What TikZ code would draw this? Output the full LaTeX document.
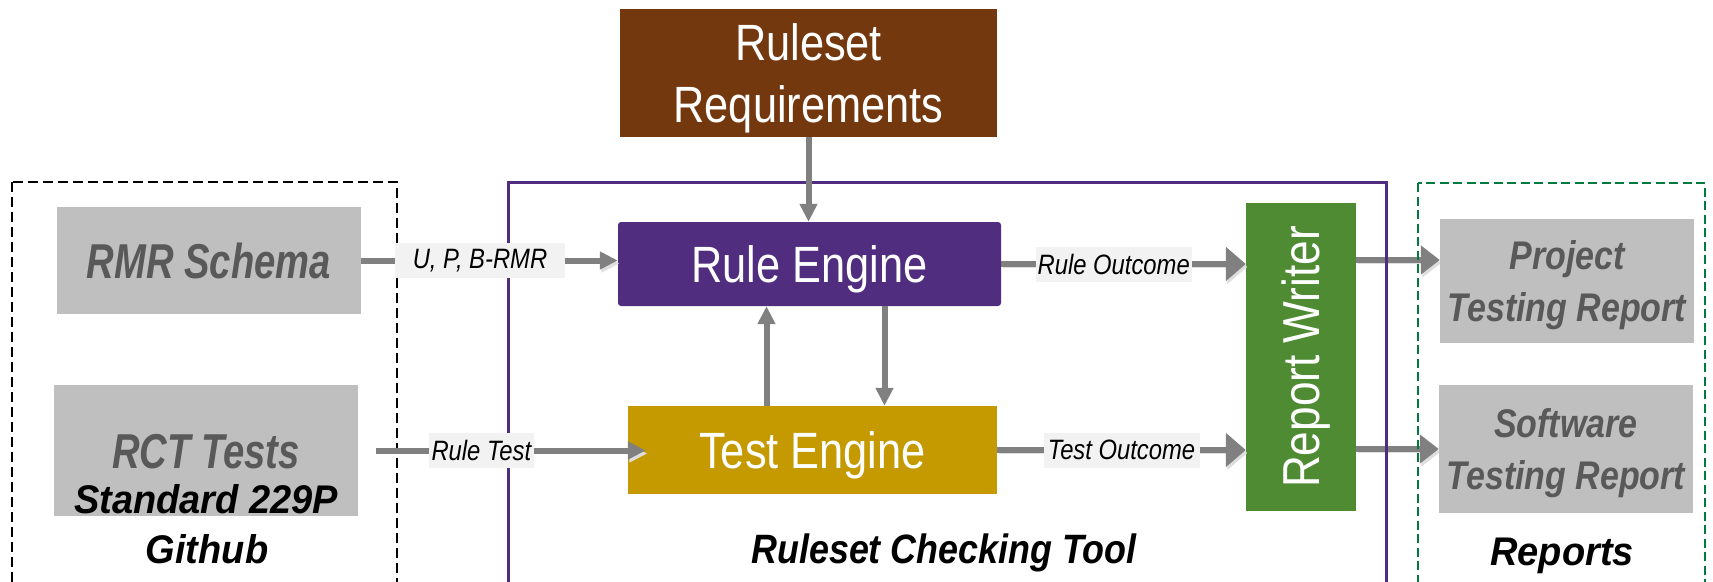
\documentclass[tikz,border=0pt]{standalone}
\usepackage{fontspec}
\setmainfont{Liberation Sans}
\newfontfamily\fA[FakeStretch=0.85]{Liberation Sans}
\newfontfamily\fB[FakeStretch=0.78]{Liberation Sans}
\newfontfamily\fC[FakeStretch=0.95]{Liberation Sans}
\newfontfamily\fD[FakeStretch=0.875]{Liberation Sans}
\usetikzlibrary{arrows.meta}
\definecolor{brownR}{HTML}{74380F}
\definecolor{purpR}{HTML}{512D7F}
\definecolor{goldT}{HTML}{C49A00}
\definecolor{greenW}{HTML}{4E8B33}
\definecolor{grayB}{HTML}{BFBFBF}
\definecolor{grayT}{HTML}{595959}
\definecolor{arrG}{HTML}{808080}
\definecolor{lblF}{HTML}{F2F2F2}
\definecolor{greenD}{HTML}{007A3D}
\pgfdeclarelayer{bg}
\pgfsetlayers{bg,main}
\begin{document}
\begin{tikzpicture}[x=1pt,y=-1pt,
  blk/.style={draw=none, inner sep=0pt, text=white, align=center, text depth=0pt, font=\fA\fontsize{51}{62}\selectfont},
  gbox/.style={fill=grayB, inner sep=0pt, text=grayT, align=center, text depth=0pt},
  conn/.style={draw=arrG, line width=6pt},
  shd/.style={preaction={draw=black!13, transform canvas={xshift=1.5pt,yshift=-3pt}}},
  arS/.style={conn, -{Triangle[width=17pt,length=18pt]}},
  arL/.style={conn, -{Triangle[width=33pt,length=20pt]}},
  arM/.style={conn, -{Triangle[width=28pt,length=19pt]}},
  lbl/.style={fill=lblF, text=black, inner xsep=1pt, inner ysep=0pt, minimum height=35pt, font=\fA\itshape\fontsize{28}{32}\selectfont},
  ttl/.style={anchor=base, text=black, inner sep=0pt}
]
\useasboundingbox (0,0) rectangle (1713,581);
\clip (0,0) rectangle (1713,581);

% containers
\draw[black, line width=2.5pt, dash pattern=on 10pt off 5pt] (12,182) rectangle (397,620);
\draw[purpR, line width=3pt] (508,182) rectangle (1386,620);
\draw[greenD, line width=2.2pt, dash pattern=on 9pt off 4.5pt] (1418,183) rectangle (1705,620);

% blocks
\node[blk, fill=brownR, minimum width=377pt, minimum height=128pt] (req) at (808.5,73) {Ruleset\\Requirements};
\node[blk, fill=purpR, rounded corners=3pt, minimum width=383pt, minimum height=84pt] (re) at (809.5,264) {Rule Engine};
\node[blk, fill=goldT, minimum width=369pt, minimum height=88pt] (te) at (812.5,450) {Test Engine};
\node[blk, fill=greenW, minimum width=110pt, minimum height=308pt] (rw) at (1301,357) {};
\node[text=white, inner sep=0pt, text depth=0pt, rotate=90, font=\fA\fontsize{52}{62}\selectfont] (rwt) at (rw.center) {Report Writer};

\node[gbox, minimum width=304pt, minimum height=107pt, font=\fB\bfseries\itshape\fontsize{49}{58}\selectfont] (rmr) at (209,260.5) {RMR Schema};
\node[gbox, minimum width=304pt, minimum height=131pt] (rct) at (206,450.5) {};
\node[ttl, text=grayT, font=\fB\bfseries\itshape\fontsize{49}{58}\selectfont] (rctt) at (206,468) {RCT Tests};
\node[ttl, font=\fC\bfseries\itshape\fontsize{40}{48}\selectfont] (std) at (206,513) {Standard 229P};

\node[gbox, minimum width=254pt, minimum height=124pt, font=\fA\bfseries\itshape\fontsize{40}{52}\selectfont] (proj) at (1567,281) {Project\\Testing Report};
\node[gbox, minimum width=254pt, minimum height=128pt, font=\fA\bfseries\itshape\fontsize{40}{52}\selectfont] (soft) at (1566,449) {Software\\Testing Report};
\coordinate (pin) at ([yshift=21pt]proj.west);

% titles
\node[ttl, font=\fC\bfseries\itshape\fontsize{40}{48}\selectfont] (gh) at (207,563) {Github};
\node[ttl, font=\fD\bfseries\itshape\fontsize{41}{48}\selectfont] (rct2) at (944,563) {Ruleset Checking Tool};
\node[ttl, font=\fC\bfseries\itshape\fontsize{40}{48}\selectfont] (rep) at (1562,565) {Reports};

% connectors
\draw[arS] (req.south) -- (req.south |- re.north);
\draw[arS, shd] (rmr.east) -- (rmr.east -| re.west)
  node[lbl, pos=0.463, minimum width=170pt] {U, P, B-RMR};
\draw[arS, shd] ([xshift=18pt]rct.east) -- ([xshift=18pt]rct.east -| te.west)
  node[lbl, pos=0.39, minimum width=105pt] {Rule Test};
\draw[arL, shd] (re.east) -- (re.east -| rw.west)
  node[lbl, pos=0.46, minimum width=156pt] {Rule Outcome};
\draw[arL, shd] (te.east) -- (te.east -| rw.west)
  node[lbl, pos=0.50, minimum width=156pt] {Test Outcome};
\draw[arS] ([xshift=-46pt]te.north) -- ([xshift=-46pt]te.north |- re.south);
\draw[arS] ([xshift=75pt]re.south) -- ([xshift=75pt]re.south |- te.north);
\begin{pgfonlayer}{bg}
\draw[arM, shd] (rw.east |- pin) -- (pin);
\draw[arM, shd] (rw.east |- soft.west) -- (soft.west);
\end{pgfonlayer}
\end{tikzpicture}
\end{document}
